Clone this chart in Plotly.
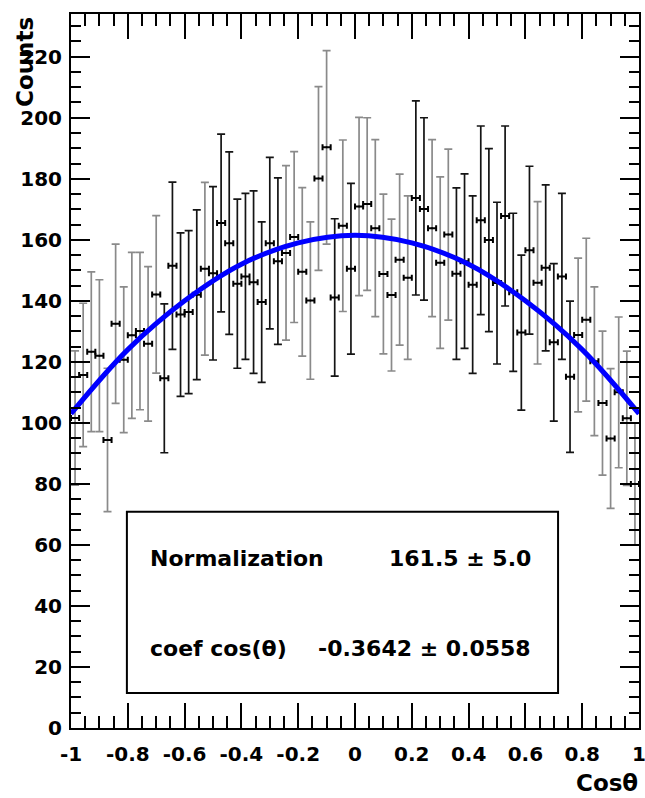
import numpy as np
import plotly.graph_objects as go

# ---------------- data ----------------
n_bins = 70
x_lo, x_hi = -1.0, 1.0

counts = [101.6, 115.7, 123.3, 122.0, 94.4, 132.5, 120.7, 128.7, 130.1, 125.9,
          142.1, 114.6, 151.5, 135.5, 136.3, 142.0, 150.5, 149.0, 165.5, 158.9,
          145.6, 148.0, 146.1, 139.6, 158.9, 153.0, 155.7, 160.9, 149.5, 140.1,
          180.1, 190.3, 141.1, 164.6, 150.5, 170.9, 171.7, 163.8, 148.8, 141.9,
          153.5, 147.6, 173.7, 170.1, 163.8, 152.5, 161.7, 148.9, 153.0, 145.3,
          166.4, 159.9, 145.8, 167.8, 142.8, 129.6, 156.6, 145.9, 150.8, 126.4,
          148.0, 115.1, 128.8, 133.8, 120.2, 106.5, 94.9, 110.0, 101.5, 80.0]

errors = [22.0, 23.5, 26.2, 24.9, 23.5, 26.1, 23.9, 27.2, 25.8, 25.3,
          25.8, 24.4, 27.4, 26.8, 26.7, 27.8, 28.3, 28.4, 29.1, 29.9,
          27.7, 27.2, 29.9, 26.3, 28.1, 27.3, 28.6, 28.0, 27.6, 25.8,
          30.1, 31.7, 25.8, 28.1, 28.0, 29.2, 28.3, 29.0, 26.2, 24.9,
          28.0, 26.8, 31.8, 29.9, 29.0, 28.1, 28.0, 28.1, 28.6, 29.1,
          30.9, 30.0, 26.5, 29.5, 25.9, 25.4, 27.5, 26.6, 27.2, 25.8,
          27.2, 24.8, 25.2, 26.7, 24.4, 23.6, 22.9, 24.7, 22.0, 20.0]

# fitted curve
curve_x = [-1.0, -0.8, -0.6, -0.4, -0.2, 0.0, 0.2, 0.4, 0.6, 0.8, 1.0]
curve_y = [103.0, 124.0, 140.0, 152.0, 159.0, 161.5, 159.0, 152.0, 140.0, 124.0, 103.0]

fit_names = ["Normalization", "coef cos(θ)"]
fit_values = ["161.5", "-0.3642"]
fit_errors = ["5.0", "0.0558"]

x_tickvals = [-1, -0.8, -0.6, -0.4, -0.2, 0, 0.2, 0.4, 0.6, 0.8, 1]
x_ticktext = ["-1", "-0.8", "-0.6", "-0.4", "-0.2", "0", "0.2", "0.4", "0.6", "0.8", "1"]
y_tickvals = [0, 20, 40, 60, 80, 100, 120, 140, 160, 180, 200, 220]
y_ticktext = [str(v) for v in y_tickvals]

x_title = "Cosθ"
y_title = "Counts"

# ---------------- style ----------------
dark_bins = [11, 12, 13, 14, 15, 17, 18, 19, 20, 21, 22, 23, 24, 25, 32, 34,
             42, 43, 47, 48, 49, 50, 51, 52, 53, 54, 55, 56, 58, 59, 60, 61]
FONT = "DejaVu Sans"

edges = np.linspace(x_lo, x_hi, n_bins + 1)
centers = 0.5 * (edges[:-1] + edges[1:])
half_w = (x_hi - x_lo) / n_bins / 2.0
counts_a = np.array(counts)
errors_a = np.array(errors)

fig = go.Figure()

light_bins = [i for i in range(n_bins) if i not in dark_bins]
for idx, col in [(light_bins, "#8a8a8a"), (dark_bins, "#141414")]:
    idx = np.array(idx)
    fig.add_trace(go.Scatter(
        x=centers[idx], y=counts_a[idx], mode="markers",
        marker=dict(size=2, color="black"),
        error_y=dict(type="data", array=errors_a[idx], color=col,
                     thickness=1.7, width=4),
        error_x=dict(type="data", array=[half_w] * len(idx), color="black",
                     thickness=2, width=3),
        showlegend=False, hoverinfo="skip"))

fig.add_trace(go.Scatter(
    x=curve_x, y=curve_y, mode="lines",
    line=dict(color="#0000ff", width=5, shape="spline", smoothing=1.0),
    showlegend=False, hoverinfo="skip"))

axis_common = dict(
    showgrid=False, zeroline=False, showline=True, linecolor="black",
    linewidth=2, mirror="allticks", ticks="inside", tickcolor="black",
    tickwidth=2, automargin=False, ticklabeloverflow="allow",
    tickfont=dict(family=FONT, size=20, color="black", weight="bold"),
)

fig.update_xaxes(range=[x_lo, x_hi], tickmode="array", tickvals=x_tickvals,
                 ticktext=x_ticktext, ticklen=25, ticklabelstandoff=7,
                 minor=dict(dtick=0.05, ticks="inside", ticklen=12,
                            tickwidth=2, tickcolor="black"),
                 **axis_common)
fig.update_yaxes(range=[0, 234], tickmode="array", tickvals=y_tickvals,
                 ticktext=y_ticktext, ticklen=19, ticklabelstandoff=3,
                 minor=dict(dtick=5, ticks="inside", ticklen=10,
                            tickwidth=2, tickcolor="black"),
                 **axis_common)

# stats box
fig.add_shape(type="rect", xref="paper", yref="paper",
              x0=0.0984, x1=0.8575, y0=0.0490, y1=0.3027,
              line=dict(color="black", width=2), fillcolor="white",
              layer="above")

txt_font = dict(family=FONT, size=22, color="black", weight="bold")
rows_y = [0.2378, 0.1117]
for name, val, err, yy in zip(fit_names, fit_values, fit_errors, rows_y):
    fig.add_annotation(xref="paper", yref="paper", x=0.1349, y=yy,
                       xanchor="left", yanchor="middle", text=name,
                       showarrow=False, font=txt_font)
    fig.add_annotation(xref="paper", yref="paper", x=0.8130, y=yy,
                       xanchor="right", yanchor="middle",
                       text=f"{val} ± {err}", showarrow=False, font=txt_font)

title_font = dict(family=FONT, size=23, color="black", weight="bold")
fig.add_annotation(xref="paper", yref="paper", x=-0.081, y=0.9986,
                   xanchor="center", yanchor="top", text=y_title,
                   textangle=-90, showarrow=False, font=title_font)
fig.add_annotation(xref="paper", yref="paper", x=1.0026, y=-0.0775,
                   xanchor="right", yanchor="middle", text=x_title,
                   showarrow=False, font=title_font)

fig.update_layout(
    width=645, height=798,
    margin=dict(l=71, r=6, t=14, b=70, pad=0, autoexpand=False),
    paper_bgcolor="white", plot_bgcolor="white",
    showlegend=False,
)

fig.write_html("out.html")
